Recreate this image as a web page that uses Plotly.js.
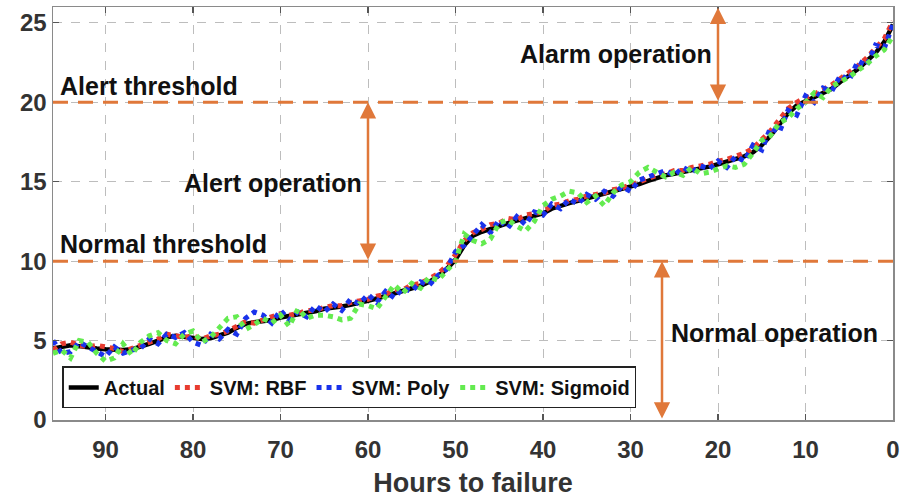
<!DOCTYPE html>
<html>
<head>
<meta charset="utf-8">
<script src="https://cdn.plot.ly/plotly-3.0.1.min.js"></script>
<style>html,body{margin:0;padding:0;background:#fff;}#chart{width:900px;height:500px;}</style>
</head>
<body>
<div id="chart"></div>
<script>
const hours = [96,95,94,93,92,91,90,89,88,87,86,85,84,83,82,81,80,79,78,77,76,75,74,73,72,71,70,69,68,67,66,65,64,63,62,61,60,59,58,57,56,55,54,53,52,51,50,49,48,47,46,45,44,43,42,41,40,39,38,37,36,35,34,33,32,31,30,29,28,27,26,25,24,23,22,21,20,19,18,17,16,15,14,13,12,11,10,9,8,7,6,5,4,3,2,1,0];

const actual = [4.5,4.6,4.7,4.65,4.55,4.5,4.45,4.4,4.4,4.45,4.6,4.8,5.0,5.2,5.3,5.25,5.15,5.1,5.15,5.3,5.5,5.8,6.05,6.15,6.2,6.3,6.45,6.55,6.6,6.7,6.85,7.0,7.05,7.15,7.25,7.35,7.5,7.65,7.8,8.0,8.15,8.3,8.45,8.7,9.05,9.5,10.1,11.0,11.6,11.85,12.05,12.25,12.4,12.55,12.7,12.85,13.0,13.3,13.5,13.65,13.8,13.95,14.05,14.2,14.35,14.5,14.65,14.85,15.05,15.25,15.4,15.5,15.6,15.7,15.8,15.95,16.1,16.25,16.4,16.6,16.85,17.3,17.9,18.6,19.3,19.8,20.05,20.3,20.55,20.85,21.3,21.7,22.1,22.6,23.1,23.8,24.9];

const svmRBF = [4.4,4.8,4.9,4.7,4.6,4.7,4.6,4.5,4.3,4.5,4.7,4.9,5.1,5.4,5.3,5.2,5.3,5.1,5.3,5.4,5.6,5.9,6.2,6.1,6.3,6.5,6.7,6.6,6.7,6.9,6.9,7.1,7.2,7.2,7.4,7.5,7.6,7.8,7.9,8.2,8.2,8.5,8.6,8.9,9.2,9.7,10.4,11.3,11.8,12.0,12.3,12.4,12.7,12.6,12.9,13.0,13.1,13.5,13.6,13.8,13.9,14.1,14.2,14.3,14.5,14.6,14.8,15.0,15.2,15.4,15.5,15.7,15.7,15.9,16.0,16.1,16.3,16.4,16.6,16.8,17.1,17.6,18.2,18.9,19.6,20.0,20.3,20.5,20.8,21.1,21.5,21.9,22.3,22.8,23.4,24.0,25.1];

const svmPoly = [5.0,4.2,4.3,4.9,4.6,4.3,4.0,4.6,4.2,4.4,4.5,5.1,4.8,5.4,5.2,5.5,4.9,4.7,5.4,5.1,5.7,5.4,6.4,6.8,6.6,6.1,6.9,6.3,6.8,6.5,7.2,6.8,7.3,6.9,7.6,7.3,7.9,7.4,8.1,7.7,8.3,8.1,8.7,8.5,9.1,9.5,10.6,11.0,11.6,12.3,11.8,12.6,12.1,12.8,12.3,13.1,12.9,13.6,13.3,13.9,13.6,14.2,13.9,14.4,14.1,14.7,14.4,15.1,15.3,15.5,15.7,15.4,15.9,15.6,16.0,15.8,16.3,15.9,16.6,16.3,17.3,17.0,18.4,18.1,19.5,19.2,20.4,20.0,20.9,20.7,21.7,21.4,22.6,22.3,23.6,23.4,24.9];

const svmSigmoid = [4.2,4.4,3.9,5.0,4.9,4.2,3.7,3.9,4.8,4.1,4.9,5.3,5.5,5.0,4.8,5.4,5.6,4.9,5.2,5.8,6.4,6.5,5.7,6.0,6.4,6.1,6.6,5.9,7.0,6.4,6.6,6.6,6.5,6.3,6.4,7.3,7.2,7.0,7.7,8.5,8.0,8.6,8.3,9.0,8.8,9.4,10.0,11.7,11.3,11.1,11.4,12.4,12.6,12.2,11.9,12.5,13.5,13.9,14.1,14.4,14.3,13.7,14.1,13.5,14.3,14.8,15.0,15.6,15.9,15.6,15.3,15.6,15.4,15.9,15.5,15.6,15.8,16.0,15.9,16.1,16.8,17.6,17.9,18.7,19.0,19.6,20.0,20.6,20.3,21.0,21.3,21.6,22.0,22.4,22.9,23.3,24.2];

const seriesNames = ["Actual", "SVM: RBF", "SVM: Poly", "SVM: Sigmoid"];
const thresholds = [20, 10];
const thresholdLabels = ["Alert threshold", "Normal threshold"];
const xTicks = [90,80,70,60,50,40,30,20,10,0];
const yTicks = [0,5,10,15,20,25];

const ORANGE = "rgb(224,120,58)";
const FONT = "Liberation Sans, Arial, sans-serif";

const traces = [
  {x: hours, y: actual, name: seriesNames[0], mode: "lines", line: {color: "#000", width: 4.5}},
  {x: hours, y: svmRBF, name: seriesNames[1], mode: "lines", line: {color: "rgb(232,60,48)", width: 5, dash: "dot"}},
  {x: hours, y: svmPoly, name: seriesNames[2], mode: "lines", line: {color: "rgb(25,50,235)", width: 5, dash: "dot"}},
  {x: hours, y: svmSigmoid, name: seriesNames[3], mode: "lines", line: {color: "rgb(100,235,80)", width: 5, dash: "dot"}}
];

const shapes = thresholds.map(t => ({
  type: "line", xref: "paper", x0: 0, x1: 1, yref: "y", y0: t, y1: t,
  line: {color: ORANGE, width: 3, dash: "15px,10px"}, layer: "above"
}));

const txt = (text, x, y, xanchor) => ({
  text: "<b>" + text + "</b>", x: x, y: y, xref: "x", yref: "y", showarrow: false,
  xanchor: xanchor || "center", yanchor: "middle",
  font: {family: FONT, size: 25, color: "#111"}
});
const arrow = (x, y0, y1) => ({
  x: x, y: y1, ax: x, ay: y0, xref: "x", yref: "y", axref: "x", ayref: "y",
  text: "", showarrow: true, arrowside: "end+start", arrowhead: 2, startarrowhead: 2,
  arrowsize: 1.3, startarrowsize: 1.3, arrowwidth: 2.5, arrowcolor: ORANGE, standoff: 0, startstandoff: 0
});

const annotations = [
  txt(thresholdLabels[0], 95.4, 21.05, "left"),
  txt(thresholdLabels[1], 95.4, 11.05, "left"),
  txt("Alert operation", 70.9, 14.95),
  txt("Alarm operation", 31.7, 23.05),
  txt("Normal operation", 13.6, 5.5),
  arrow(60, 10, 20),
  arrow(26.4, 0, 10),
  arrow(20, 20, 25.95)
];

const axisCommon = {
  showline: true, linecolor: "#8a8a8a", linewidth: 1.5, mirror: "ticks",
  ticks: "inside", ticklen: 6, tickcolor: "#555", tickwidth: 1.2,
  showgrid: true, gridcolor: "#bdbdbd", griddash: "dash", gridwidth: 1,
  zeroline: false,
  tickfont: {family: FONT, size: 24, color: "#333", weight: "bold"}
};

const layout = {
  width: 900, height: 500,
  margin: {l: 53, r: 7, t: 7, b: 80},
  paper_bgcolor: "#fff", plot_bgcolor: "#fff",
  showlegend: true,
  legend: {
    orientation: "h", x: 0.011, xanchor: "left", y: 0.028, yanchor: "bottom",
    bgcolor: "#fff", bordercolor: "#222", borderwidth: 1.5,
    font: {family: FONT, size: 20, color: "#111", weight: "bold"},
    itemwidth: 30, tracegroupgap: 0
  },
  xaxis: Object.assign({}, axisCommon, {
    range: [96, 0], tickvals: xTicks, ticklabelstandoff: 8,
    title: {text: "<b>Hours to failure</b>", font: {family: FONT, size: 27, color: "#333"}, standoff: 11}
  }),
  yaxis: Object.assign({}, axisCommon, {
    range: [0, 26], tickvals: yTicks, ticklabelstandoff: 0
  }),
  shapes: shapes,
  annotations: annotations
};

Plotly.newPlot("chart", traces, layout, {displayModeBar: false, staticPlot: true});
</script>
</body>
</html>
